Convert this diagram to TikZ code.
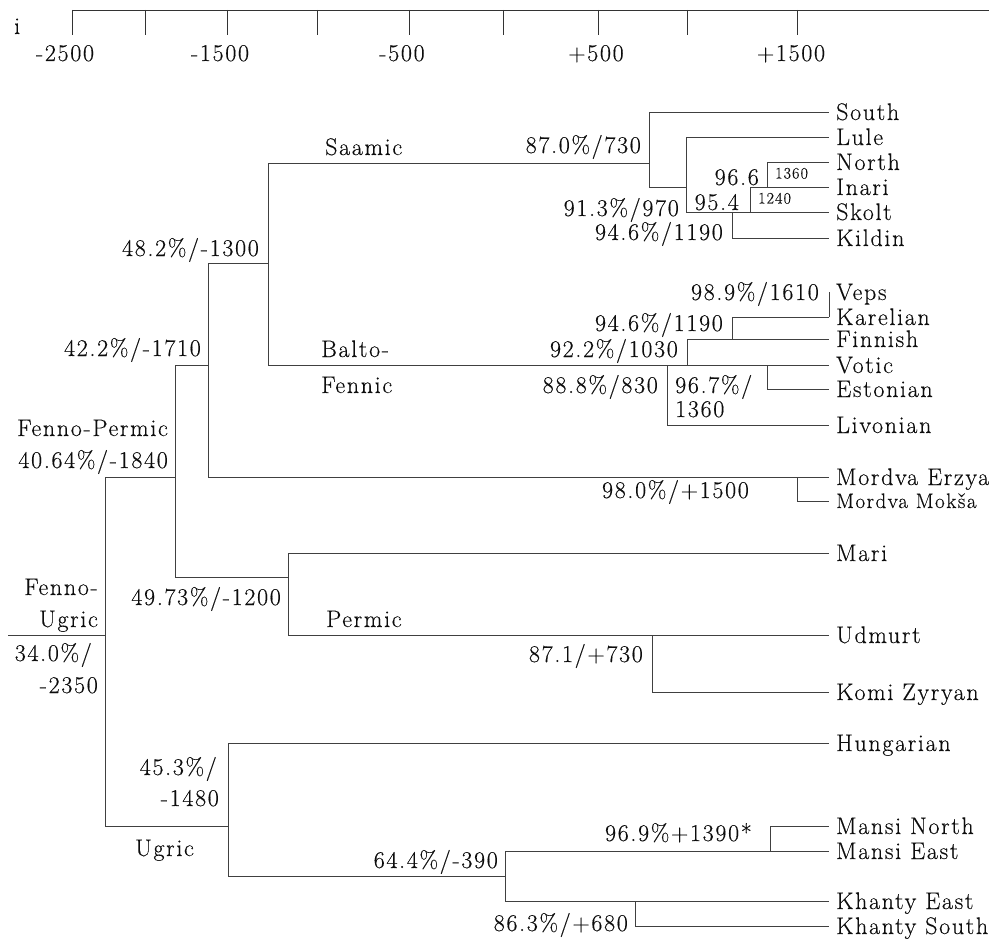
\documentclass[tikz,border=0pt]{standalone}
\usepackage{fontspec}
\setmainfont{Latin Modern Roman}[LetterSpace=7,FakeBold=0.3]
\begin{document}
\begin{tikzpicture}[x=1pt,y=-1pt,
  br/.style={draw=black!75, line width=0.9pt},
  axisline/.style={draw=black!80, line width=0.9pt},
  leaf/.style={anchor=west, inner xsep=7pt, inner ysep=0pt, text height=16pt, text depth=0pt, font=\fontsize{24}{28}\selectfont, text=black!95},
  smallleaf/.style={anchor=west, inner xsep=7pt, inner ysep=0pt, text height=14pt, text depth=0pt, font=\fontsize{21}{25}\selectfont, text=black!95},
  lab/.style={inner sep=0pt, text height=16pt, text depth=0pt, font=\fontsize{24}{28}\selectfont, text=black!95},
  smalllab/.style={inner sep=0pt, text height=11pt, text depth=0pt, font=\fontsize{16}{19}\selectfont, text=black!95}
]
\useasboundingbox (0,0) rectangle (989,939);

% ---------- time axis ----------
\draw[axisline] (72,10) -- (989,10);
\foreach \tx in {72,145,227,317,409,503,598,687,797}
  \draw[axisline] (\tx,10) -- (\tx,35);
\node[lab] (ax1) at (65,53) {-2500};
\node[lab] (ax2) at (220,53) {-1500};
\node[lab] (ax3) at (402,53) {-500};
\node[lab] (ax4) at (596,53) {+500};
\node[lab] (ax5) at (791,53) {+1500};
\node[lab, anchor=west] (li) at (14,26) {i};

% ---------- branch points ----------
\coordinate (root) at (8,635);
\coordinate (fu) at (105,635);
\coordinate (fp) at (175,477);
\coordinate (n42) at (208,365);
\coordinate (n48) at (268,263);
\coordinate (sa) at (649,163);
\coordinate (s91) at (686,187);
\coordinate (s946) at (732,212);
\coordinate (s954) at (750,212);
\coordinate (s966) at (767,187);
\coordinate (bf) at (667,365);
\coordinate (b92) at (687,365);
\coordinate (b946) at (732,339);
\coordinate (b967) at (767,365);
\coordinate (mo) at (797,477);
\coordinate (pm) at (288,577);
\coordinate (p87) at (652,635);
\coordinate (ug) at (228,826);
\coordinate (u64) at (505,876);
\coordinate (m969) at (770,851);
\coordinate (k863) at (635,901);

% ---------- leaves ----------
\node[leaf] (south) at (829,112) {South};
\node[leaf] (lule) at (829,137) {Lule};
\node[leaf] (north) at (829,162) {North};
\node[leaf] (inari) at (829,187) {Inari};
\node[leaf] (skolt) at (829,212) {Skolt};
\node[leaf] (kildin) at (829,238) {Kildin};
\node[leaf] (veps) at (829,292) {Veps};
\node[leaf] (karelian) at (829,317) {Karelian};
\node[leaf] (finnish) at (829,339) {Finnish};
\node[leaf] (votic) at (829,365) {Votic};
\node[leaf] (estonian) at (829,389) {Estonian};
\node[leaf] (livonian) at (829,425) {Livonian};
\node[leaf] (erzya) at (829,477) {Mordva Erzya};
\node[smallleaf] (moksa) at (829,501) {Mordva Mokša};
\node[leaf] (mari) at (829,553) {Mari};
\node[leaf] (udmurt) at (829,635) {Udmurt};
\node[leaf] (komi) at (829,692) {Komi Zyryan};
\node[leaf] (hungarian) at (829,743) {Hungarian};
\node[leaf] (mansin) at (829,826) {Mansi North};
\node[leaf] (mansie) at (829,851) {Mansi East};
\node[leaf] (khantye) at (829,901) {Khanty East};
\node[leaf] (khantys) at (829,926) {Khanty South};

% ---------- connectors ----------
\draw[br] (root) -- (fu);
\draw[br] (fu) |- (fp);
\draw[br] (fu) |- (ug);
\draw[br] (fp) |- (n42);
\draw[br] (fp) |- (pm);
\draw[br] (n42) |- (n48);
\draw[br] (n42) |- (mo);
\draw[br] (n48) |- (sa);
\draw[br] (n48) |- (bf);
% Saamic
\draw[br] (sa) |- (south.west);
\draw[br] (sa) |- (s91);
\draw[br] (s91) |- (lule.west);
\draw[br] (s91) |- (s946);
\draw[br] (s946) -- (s954);
\draw[br] (s946) |- (kildin.west);
\draw[br] (s954) |- (s966);
\draw[br] (s954) -- (skolt.west);
\draw[br] (s966) |- (north.west);
\draw[br] (s966) -- (inari.west);
% Balto-Fennic
\draw[br] (bf) -- (b92);
\draw[br] (bf) |- (livonian.west);
\draw[br] (b92) |- (b946);
\draw[br] (b92) -- (b967);
\draw[br] (b946) |- (karelian.west);
\draw[br] (karelian.west) -- (veps.west);
\draw[br] (b946) -- (finnish.west);
\draw[br] (b967) -- (votic.west);
\draw[br] (b967) |- (estonian.west);
% Mordva
\draw[br] (mo) -- (erzya.west);
\draw[br] (mo) |- (moksa.west);
% Permic
\draw[br] (pm) |- (mari.west);
\draw[br] (pm) |- (p87);
\draw[br] (p87) -- (udmurt.west);
\draw[br] (p87) |- (komi.west);
% Ugric
\draw[br] (ug) |- (hungarian.west);
\draw[br] (ug) |- (u64);
\draw[br] (u64) |- (m969);
\draw[br] (u64) |- (k863);
\draw[br] (m969) |- (mansin.west);
\draw[br] (m969) -- (mansie.west);
\draw[br] (k863) -- (khantye.west);
\draw[br] (k863) |- (khantys.west);

% ---------- labels ----------
\node[lab, anchor=east] (l870) at (641,145) {87.0\%/730};
\node[lab, anchor=east] (l966) at (759,177) {96.6};
\node[smalllab, anchor=west] (l1360a) at (775,173) {1360};
\node[smalllab, anchor=west] (l1240) at (758,198) {1240};
\node[lab, anchor=east] (l954) at (739,202) {95.4};
\node[lab, anchor=east] (l913) at (679,208) {91.3\%/970};
\node[lab, anchor=east] (l946s) at (723,232) {94.6\%/1190};
\node[lab, anchor=east] (l989) at (819,292) {98.9\%/1610};
\node[lab, anchor=east] (l946f) at (723,323) {94.6\%/1190};
\node[lab, anchor=east] (l922) at (678,349) {92.2\%/1030};
\node[lab, anchor=east] (l888) at (658,385) {88.8\%/830};
\node[lab, anchor=west] (l967a) at (675,385) {96.7\%/};
\node[lab, anchor=west] (l967b) at (675,409) {1360};
\node[lab, anchor=east] (l980) at (749,490) {98.0\%/+1500};
\node[lab, anchor=east] (l482) at (259,248) {48.2\%/-1300};
\node[lab, anchor=east] (l422) at (201,348) {42.2\%/-1710};
\node[lab, anchor=east] (lfp) at (168,428) {Fenno-Permic};
\node[lab, anchor=east] (l4064) at (168,460) {40.64\%/-1840};
\node[lab, anchor=east] (lfu1) at (98,587) {Fenno-};
\node[lab, anchor=east] (lfu2) at (98,619) {Ugric};
\node[lab, anchor=east] (l340) at (92,653) {34.0\%/};
\node[lab, anchor=east] (l2350) at (98,685) {-2350};
\node[lab, anchor=east] (l4973) at (281,597) {49.73\%/-1200};
\node[lab, anchor=east] (l871) at (643,654) {87.1/+730};
\node[lab, anchor=west] (lperm) at (326,619) {Permic};
\node[lab, anchor=west] (lsaam) at (325,147) {Saamic};
\node[lab, anchor=west] (lbf1) at (321,349) {Balto-};
\node[lab, anchor=west] (lbf2) at (321,385) {Fennic};
\node[lab, anchor=east] (l453) at (217,767) {45.3\%/};
\node[lab, anchor=east] (l1480) at (219,798) {-1480};
\node[lab, anchor=west] (lug) at (135,848) {Ugric};
\node[lab, anchor=east] (l644) at (498,860) {64.4\%/-390};
\node[lab, anchor=east] (l969) at (752,833) {96.9\%+1390*};
\node[lab, anchor=east] (l863) at (628,923) {86.3\%/+680};
\end{tikzpicture}
\end{document}
